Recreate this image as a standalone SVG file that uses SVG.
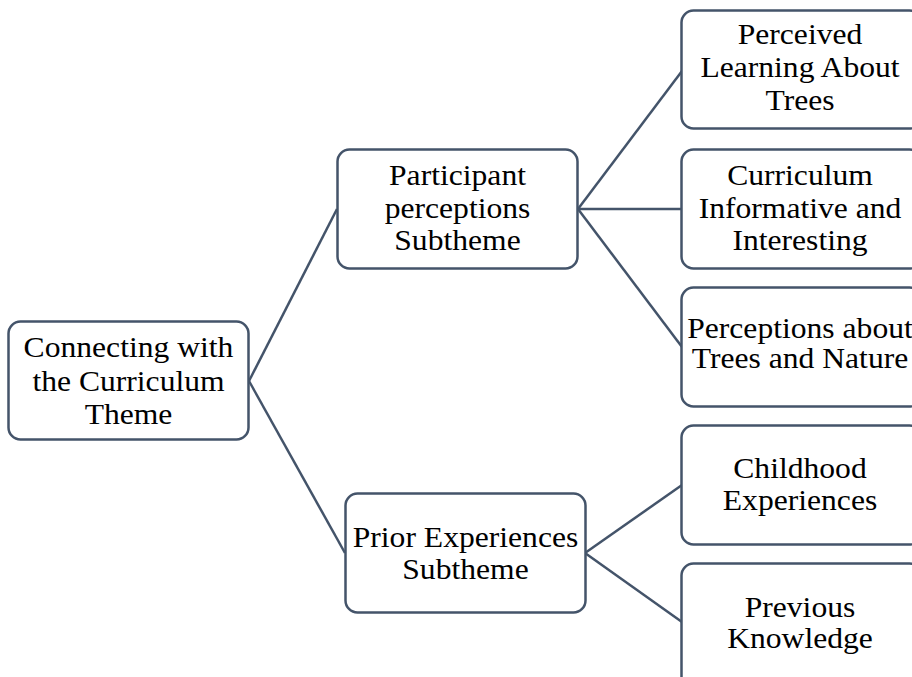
<svg xmlns="http://www.w3.org/2000/svg" width="912" height="677" viewBox="0 0 912 677">
  <style>
    .box { fill: #ffffff; stroke: #44546a; stroke-width: 2.5; }
    .link { stroke: #44546a; stroke-width: 2.5; fill: none; }
    .label { font-family: "Liberation Serif", "Times New Roman", serif; font-size: 29px; fill: #000000; text-anchor: middle; }
  </style>
  <rect width="912" height="677" fill="#ffffff"/>
  <g id="connectors">
    <line class="link" x1="249" y1="381" x2="337" y2="209"/>
    <line class="link" x1="249" y1="381" x2="345" y2="553"/>
    <line class="link" x1="578" y1="209" x2="682" y2="71"/>
    <line class="link" x1="578" y1="209" x2="682" y2="209"/>
    <line class="link" x1="578" y1="209" x2="682" y2="347"/>
    <line class="link" x1="585" y1="553" x2="682" y2="485"/>
    <line class="link" x1="585" y1="553" x2="682" y2="622"/>
  </g>
  <g id="root">
    <rect class="box" x="8.5" y="321.5" width="240" height="118" rx="12"/>
    <text class="label" transform="translate(128.5 0) scale(1.09 1)"><tspan x="0" y="357">Connecting with</tspan><tspan x="0" y="391">the Curriculum</tspan><tspan x="0" y="424">Theme</tspan></text>
  </g>
  <g id="participant">
    <rect class="box" x="337.5" y="149.5" width="240" height="119" rx="12"/>
    <text class="label" transform="translate(457.5 0) scale(1.09 1)"><tspan x="0" y="185">Participant</tspan><tspan x="0" y="218">perceptions</tspan><tspan x="0" y="250">Subtheme</tspan></text>
  </g>
  <g id="prior">
    <rect class="box" x="345.5" y="493.5" width="240" height="119" rx="12"/>
    <text class="label" transform="translate(465.5 0) scale(1.09 1)"><tspan x="0" y="547">Prior Experiences</tspan><tspan x="0" y="579">Subtheme</tspan></text>
  </g>
  <g id="perceived">
    <rect class="box" x="681.5" y="10.5" width="240" height="118" rx="12"/>
    <text class="label" transform="translate(800 0) scale(1.09 1)"><tspan x="0" y="44">Perceived</tspan><tspan x="0" y="77">Learning About</tspan><tspan x="0" y="110">Trees</tspan></text>
  </g>
  <g id="curriculum">
    <rect class="box" x="681.5" y="149.5" width="240" height="119" rx="12"/>
    <text class="label" transform="translate(800 0) scale(1.09 1)"><tspan x="0" y="185">Curriculum</tspan><tspan x="0" y="218">Informative and</tspan><tspan x="0" y="250">Interesting</tspan></text>
  </g>
  <g id="perceptions">
    <rect class="box" x="681.5" y="287.5" width="240" height="119" rx="12"/>
    <text class="label" transform="translate(800 0) scale(1.09 1)"><tspan x="0" y="338">Perceptions about</tspan><tspan x="0" y="368">Trees and Nature</tspan></text>
  </g>
  <g id="childhood">
    <rect class="box" x="681.5" y="425.5" width="240" height="119" rx="12"/>
    <text class="label" transform="translate(800 0) scale(1.09 1)"><tspan x="0" y="478">Childhood</tspan><tspan x="0" y="510">Experiences</tspan></text>
  </g>
  <g id="previous">
    <rect class="box" x="681.5" y="563.5" width="240" height="130" rx="12"/>
    <text class="label" transform="translate(800 0) scale(1.09 1)"><tspan x="0" y="617">Previous</tspan><tspan x="0" y="648">Knowledge</tspan></text>
  </g>
</svg>
